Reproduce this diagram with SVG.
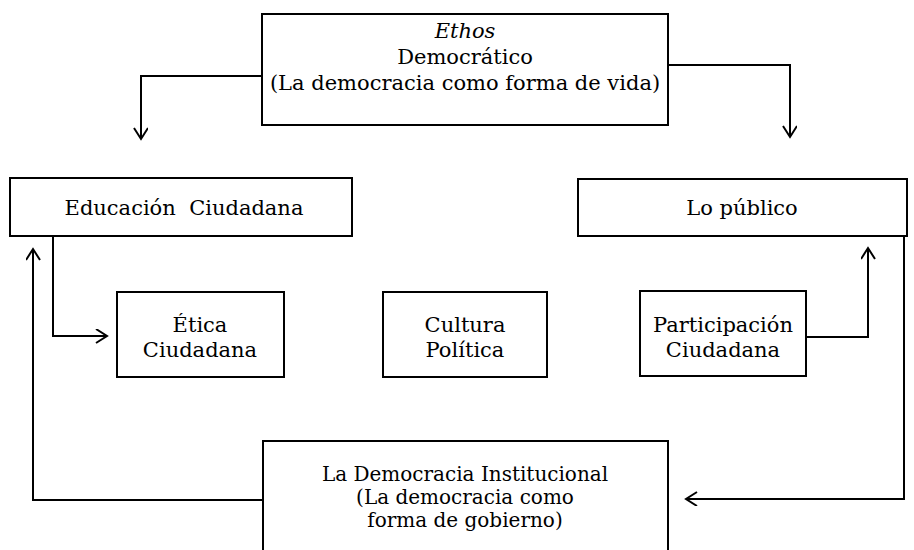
<svg xmlns="http://www.w3.org/2000/svg" width="914" height="550" viewBox="0 0 914 550">
<style>
  .box { fill: #ffffff; stroke: #000000; stroke-width: 2; }
  .lbl { font-family: "DejaVu Serif", "Liberation Serif", serif; font-size: 21px; fill: #000000; text-anchor: middle; white-space: pre; }
  .sm { font-size: 20px; }
  .it { font-style: italic; }
  .conn { fill: none; stroke: #000000; stroke-width: 2; }
</style>
<defs>
  <marker id="arr" markerUnits="userSpaceOnUse" markerWidth="16" markerHeight="16" refX="12" refY="7" orient="auto">
    <path d="M1,0 L12,7 L1,14" fill="none" stroke="#000000" stroke-width="2"/>
  </marker>
</defs>
<rect width="914" height="550" fill="#ffffff"/>

<g id="connectors">
  <path class="conn" d="M262,76 H141 V139" marker-end="url(#arr)"/>
  <path class="conn" d="M668,65 H790 V137" marker-end="url(#arr)"/>
  <path class="conn" d="M53,236 V336 H107" marker-end="url(#arr)"/>
  <path class="conn" d="M806,337 H868 V248" marker-end="url(#arr)"/>
  <path class="conn" d="M262,500 H33 V249" marker-end="url(#arr)"/>
  <path class="conn" d="M904,236 V499 H686" marker-end="url(#arr)"/>
</g>

<g id="ethos">
  <rect class="box" x="262" y="14" width="406" height="111"/>
  <text class="lbl it" x="465" y="38">Ethos</text>
  <text class="lbl" x="465" y="64">Democrático</text>
  <text class="lbl" x="465" y="90">(La democracia como forma de vida)</text>
</g>

<g id="educacion">
  <rect class="box" x="10" y="178" width="342" height="58"/>
  <text class="lbl" x="184" y="215" xml:space="preserve">Educación  Ciudadana</text>
</g>

<g id="publico">
  <rect class="box" x="578" y="179" width="329" height="57"/>
  <text class="lbl" x="742" y="215">Lo público</text>
</g>

<g id="etica">
  <rect class="box" x="117" y="292" width="167" height="85"/>
  <text class="lbl" x="200" y="332">Ética</text>
  <text class="lbl" x="200" y="357">Ciudadana</text>
</g>

<g id="cultura">
  <rect class="box" x="383" y="292" width="164" height="85"/>
  <text class="lbl" x="465" y="332">Cultura</text>
  <text class="lbl" x="465" y="357">Política</text>
</g>

<g id="participacion">
  <rect class="box" x="640" y="291" width="166" height="85"/>
  <text class="lbl" x="723" y="332">Participación</text>
  <text class="lbl" x="723" y="357">Ciudadana</text>
</g>

<g id="institucional">
  <rect class="box" x="263" y="441" width="405" height="120"/>
  <text class="lbl sm" x="465" y="481">La Democracia Institucional</text>
  <text class="lbl sm" x="465" y="504">(La democracia como</text>
  <text class="lbl sm" x="465" y="527">forma de gobierno)</text>
</g>
</svg>
